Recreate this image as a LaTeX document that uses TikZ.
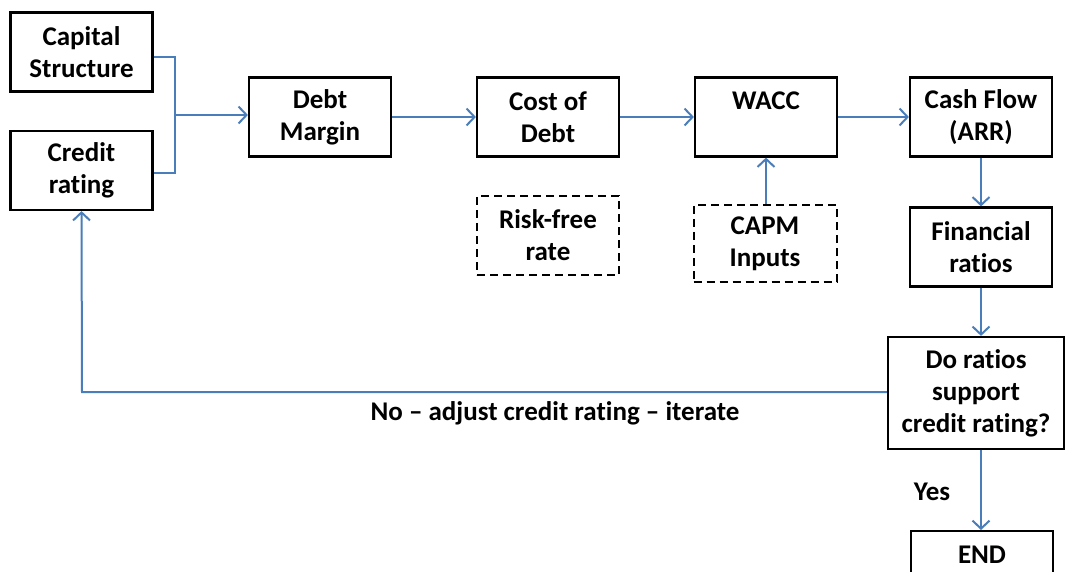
\documentclass[tikz,border=0pt]{standalone}
\usepackage{fontspec}
\setmainfont{Carlito}[Ligatures=NoCommon]
\usetikzlibrary{arrows.meta}
\definecolor{linkblue}{HTML}{4A7EBB}
\tikzset{
  box/.style={draw=black, line width=2.2pt, minimum width=142pt, minimum height=79pt, inner sep=0pt, align=center,
    font=\fontsize{27}{32}\selectfont\bfseries},
  dbox/.style={box, dashed, dash pattern=on 8pt off 5pt, line width=2pt},
  link/.style={draw=linkblue, line width=2pt, -{Straight Barb[length=8pt,width=17pt,line width=2pt]}},
  plain/.style={draw=linkblue, line width=2pt},
  lbl/.style={font=\fontsize{27}{32}\selectfont\bfseries, inner sep=0pt}
}
\begin{document}
\begin{tikzpicture}[x=1pt,y=-1pt]
\clip (0,0) rectangle (1065,572);
\fill[white] (0,0) rectangle (1065,572);

\node[box] (cap) at (81.5,52) {Capital\\Structure};
\node[box] (cred) at (81.5,170.5) {Credit\\rating};
\node[box] (dm) at (320,117) {Debt\\Margin};
\node[box] (cod) at (548,117) {Cost of\\Debt};
\node[box] (wacc) at (766,117) {WACC\\\mbox{}};
\node[box] (cf) at (981,117) {Cash Flow\\(ARR)};
\node[dbox] (rf) at (548,235.5) {Risk-free\\rate};
\node[dbox, minimum width=143pt, minimum height=77pt] (capm) at (765,243.5) {CAPM\\Inputs};
\node[box] (fr) at (981,247) {Financial\\ratios};
\node[box, minimum width=176pt, minimum height=112pt] (dr) at (976,393) {Do ratios\\support\\credit rating?};
\node[box, minimum height=80pt, anchor=north] (endb) at (982,530) {};
\node[lbl] (endt) at (982,555) {END};

\coordinate (j) at (175,115);
\draw[plain] (cap.east |- 0,57) -- (175,57) -- (175,173) -- (cred.east |- 0,173);
\draw[link, line width=1.5pt] (j) -- (dm.west |- j);
\draw[link] (dm) -- (cod);
\draw[link] (cod) -- (wacc);
\draw[link] (wacc) -- (cf);
\draw[link] (capm.north -| wacc.south) -- (wacc.south);
\draw[link] (cf.south) -- (fr.north);
\draw[link] (fr.south) -- (fr.south |- dr.north);
\draw[link] (fr.south |- dr.south) -- (fr.south |- endb.north);
\coordinate (fb) at (82,392);
\draw[link] (dr.west |- fb) -- (fb) -- (cred.south);

\node[lbl] (no) at (555,413) {No -- adjust credit rating -- iterate};
\node[lbl] (yes) at (932,492) {Yes};
\end{tikzpicture}
\end{document}
